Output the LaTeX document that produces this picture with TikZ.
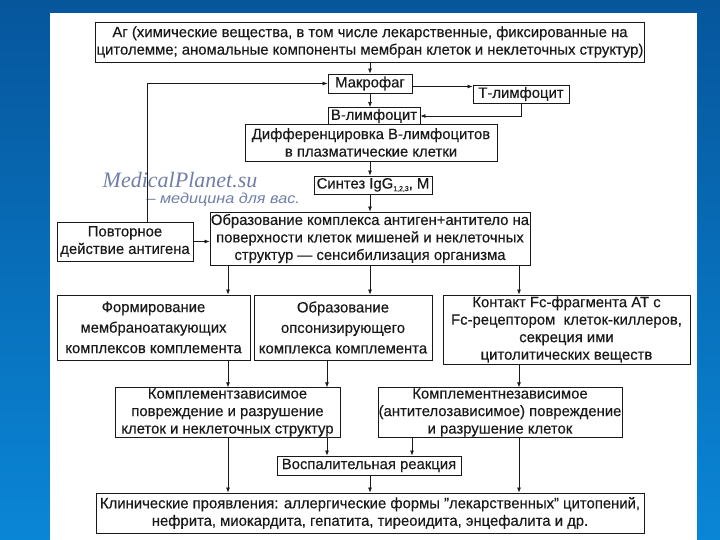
\documentclass[tikz,border=0pt]{standalone}
\usepackage{fontspec}
\setmainfont{Liberation Sans}[FakeStretch=0.99,FakeBold=0.3]
\newfontfamily\wmserif{Liberation Serif}
\newfontfamily\wmsans{Liberation Sans}[FakeStretch=1.12]
\usepackage{tikz}
\usetikzlibrary{arrows.meta,positioning,shadows}
\definecolor{slidetop}{RGB}{6,86,156}
\definecolor{slidebot}{RGB}{10,134,214}
\definecolor{wmark}{RGB}{112,126,168}
\definecolor{ink}{RGB}{25,25,25}

\begin{document}
\begin{tikzpicture}[x=1pt,y=-1pt,>={Latex[length=5pt,width=4pt]},
  font=\fontsize{15}{17.5}\selectfont,
  box/.style={draw=ink,line width=0.9pt,fill=white,align=center,inner sep=0.5pt,text=ink,
    drop shadow={shadow xshift=0.8pt,shadow yshift=-0.8pt,opacity=0.9,fill=ink}},
  link/.style={->,draw=ink,line width=0.7pt}]
  \useasboundingbox (0,0) rectangle (720,540);
  % slide background
  \shade[top color=slidetop,bottom color=slidebot] (0,0) rectangle (720,540);
  \fill[white] (50,13) rectangle (697,540);
  % columns for the arrows
  \coordinate (c1) at (228,0);
  \coordinate (c2) at (370,0);
  \coordinate (c3) at (519,0);
  \coordinate (c4) at (327,0);
  \coordinate (c5) at (412,0);
  \coordinate (fb) at (147,0);
  % watermark
  \node[text=wmark,font=\fontsize{22}{22}\selectfont\wmserif\itshape] (wm) at (180,180) {MedicalPlanet.su};
  \node[text=wmark,font=\fontsize{14.5}{14.5}\selectfont\wmsans\itshape,anchor=west] (wmsub) at (143,199.5) {– медицина для вас.};
  % upper chain
  \node[box,minimum width=549,minimum height=40] (ag) at (370,42)
    {Аг (химические вещества, в том числе лекарственные, фиксированные на\\
     цитолемме; аномальные компоненты мембран клеток и неклеточных структур)};
  \node[box,minimum width=84,minimum height=19] (makro) at (370,83.5) {Макрофаг};
  \node[box,minimum width=96,minimum height=18] (tlimf) at (521,94) {Т-лимфоцит};
  \node[box,minimum width=92,minimum height=17] (blimf) at (374,116) {В-лимфоцит};
  \node[box,minimum width=252,minimum height=37] (diff) at (371,142.5)
    {Дифференцировка В-лимфоцитов\\в плазматические клетки};
  \node[box,minimum width=118,minimum height=18] (sint) at (373,185)
    {Синтез IgG\raisebox{-2.5pt}{\fontsize{7}{7}\selectfont 1,2,3}, M};
  \node[box,minimum width=320,minimum height=53] (obraz) at (370,238.5)
    {Образование комплекса антиген+антитело на\\поверхности клеток мишеней и неклеточных\\
     структур --- сенсибилизация организма};
  \node[box,minimum width=136,minimum height=39] (povt) at (125,241.5) {Повторное\\действие антигена};
  % three mechanisms
  \node[box,minimum width=193,minimum height=65,font=\fontsize{15}{20.5}\selectfont] (f1) at (153.5,327.5)
    {Формирование\\мембраноатакующих\\комплексов комплемента};
  \node[box,minimum width=178,minimum height=65,font=\fontsize{15}{20.5}\selectfont] (f2) at (343,327.5)
    {Образование\\опсонизирующего\\комплекса комплемента};
  \node[box,minimum width=247,minimum height=69] (f3) at (566.5,329.5)
    {Контакт Fc-фрагмента АТ с\\Fc-рецептором\ \ клеток-киллеров,\\секреция ими\\цитолитических веществ};
  % damage
  \node[box,minimum width=225,minimum height=49] (kz) at (227.5,412.5)
    {Комплементзависимое\\повреждение и разрушение\\клеток и неклеточных структур};
  \node[box,minimum width=244,minimum height=49] (knz) at (500,412.5)
    {Комплементнезависимое\\(антителозависимое) повреждение\\и разрушение клеток};
  \node[box,minimum width=184,minimum height=19] (vosp) at (369,465.5) {Воспалительная реакция};
  \node[box,minimum width=548,minimum height=40] (klin) at (370,513)
    {Клинические проявления: аллергические формы "лекарственных" цитопений,\\
     нефрита, миокардита, гепатита, тиреоидита, энцефалита и др.};
  % arrows
  \coordinate (mk) at ([yshift=-3pt]makro.east);
  \draw[link] (ag.south -| c2) -- (makro.north -| c2);
  \draw[link] (mk) -- (mk -| tlimf.west);
  \draw[link] (makro.south -| c2) -- (blimf.north -| c2);
  \draw[link] (tlimf.south) |- (blimf.east);
  \draw[link] (fb |- povt.north) |- (makro.west);
  \draw[link] (diff.south -| c2) -- (sint.north -| c2);
  \draw[link] (sint.south -| c2) -- (obraz.north -| c2);
  \draw[link] (povt.east) -- (povt.east -| obraz.west);
  \foreach \c/\b in {c1/f1,c2/f2,c3/f3}
    \draw[link] (obraz.south -| \c) -- (\b.north -| \c);
  \draw[link] (f1.south -| c1) -- (kz.north -| c1);
  \draw[link] (f2.south -| c4) -- (kz.north -| c4);
  \draw[link] (f3.south -| c3) -- (knz.north -| c3);
  \draw[link] (kz.south -| c4) -- (vosp.north -| c4);
  \draw[link] (knz.south -| c5) -- (vosp.north -| c5);
  \draw[link] (kz.south -| c1) -- (klin.north -| c1);
  \draw[link] (vosp.south -| c2) -- (klin.north -| c2);
  \draw[link] (knz.south -| c3) -- (klin.north -| c3);
\end{tikzpicture}
\end{document}
